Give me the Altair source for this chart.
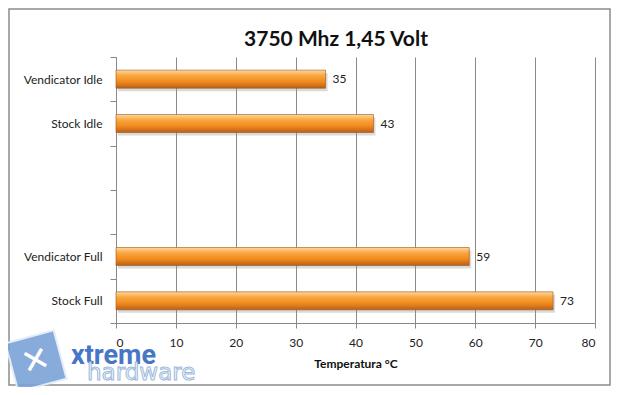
import altair as alt
import pandas as pd

categories = ["Vendicator Idle", "Stock Idle", " ", "  ", "Vendicator Full", "Stock Full"]
values = [35, 43, None, None, 59, 73]
x_ticks = [0, 10, 20, 30, 40, 50, 60, 70, 80]
chart_title = "3750 Mhz 1,45 Volt"

rows = [{"cat": c, "val": v} for c, v in zip(categories, values) if v is not None]
df = pd.DataFrame(rows)

FONT = "Lato"
W, H = 479, 266

grad = alt.Gradient(
    gradient="linear",
    stops=[
        alt.GradientStop(color="#fcd9a0", offset=0.0),
        alt.GradientStop(color="#f9a63f", offset=0.3),
        alt.GradientStop(color="#f18a1c", offset=0.65),
        alt.GradientStop(color="#b7601a", offset=1.0),
    ],
    x1=0, x2=0, y1=0, y2=1,
)

y_enc = alt.Y(
    "cat:N",
    scale=alt.Scale(domain=categories, paddingInner=0, paddingOuter=0),
    axis=alt.Axis(
        title=None, tickBand="extent", tickSize=6, tickColor="#888888",
        domainColor="#888888", labelFont=FONT, labelFontSize=12,
        labelColor="#222222", labelPadding=8, grid=False,
    ),
)
x_enc = alt.X(
    "val:Q",
    scale=alt.Scale(domain=[0, 80], nice=False),
    axis=alt.Axis(
        values=x_ticks, title="Temperatura °C", titleFont=FONT,
        titleFontSize=12, titleFontWeight="bold", titleColor="#111111",
        titlePadding=10, labelFont=FONT, labelFontSize=12, labelColor="#222222",
        labelPadding=9, tickSize=5, tickColor="#888888", domainColor="#888888",
        grid=True, gridColor="#8a8a8a", gridWidth=1,
    ),
)

base = alt.Chart(df)

shadow = base.mark_bar(size=18, color="#999999", opacity=0.35, yOffset=3, xOffset=2).encode(
    x=alt.X("val:Q"), y=alt.Y("cat:N")
)
bars = base.mark_bar(size=18, color=grad, stroke="#a0521a", strokeWidth=0.6).encode(
    x=x_enc, y=y_enc
)
labels = base.mark_text(align="left", dx=7, font=FONT, fontSize=12, color="#222222").encode(
    x="val:Q", y="cat:N", text="val:Q"
)

deco = pd.DataFrame({"k": [0]})
title_mark = alt.Chart(deco).mark_text(
    text=chart_title, font=FONT, fontSize=21, fontWeight="bold", color="#111111",
    align="center", baseline="alphabetic",
).encode(x=alt.value(220), y=alt.value(-11))
logo_sq = alt.Chart(deco).mark_point(
    shape="square", size=2500, filled=True, angle=345,
    color="#7ba3d8", opacity=0.9, stroke="#e3ecf7", strokeWidth=2,
).encode(x=alt.value(-80), y=alt.value(304))
logo_x = alt.Chart(deco).mark_text(
    text="✕", font="DejaVu Sans", fontSize=34, color="white", angle=345
).encode(x=alt.value(-80), y=alt.value(305))
logo_t1 = alt.Chart(deco).mark_text(
    text="xtreme", font="Roboto", fontSize=27, fontWeight="bold",
    color="#4676c6", align="left", baseline="alphabetic",
).encode(x=alt.value(-45), y=alt.value(307))
logo_t2 = alt.Chart(deco).mark_text(
    text="hardware", font="DejaVu Sans", fontSize=23, color="#f4f8fd",
    stroke="#9db8dc", strokeWidth=1, align="left", baseline="alphabetic",
).encode(x=alt.value(-29), y=alt.value(323))
frame = alt.Chart(deco).mark_rect(
    fill=None, stroke="#8c8c8c", strokeWidth=1.5
).encode(x=alt.value(-107), x2=alt.value(494), y=alt.value(-48), y2=alt.value(328))

chart = alt.layer(
    frame, shadow, bars, labels, title_mark, logo_sq, logo_x, logo_t1, logo_t2
).properties(
    width=W, height=H,
    autosize=alt.AutoSizeParams(type="none"),
    padding={"left": 108, "top": 49, "right": 16, "bottom": 64},
    background="white",
).configure_view(stroke=None)

chart.save("out.html", embed_options={"renderer": "svg", "actions": False})
